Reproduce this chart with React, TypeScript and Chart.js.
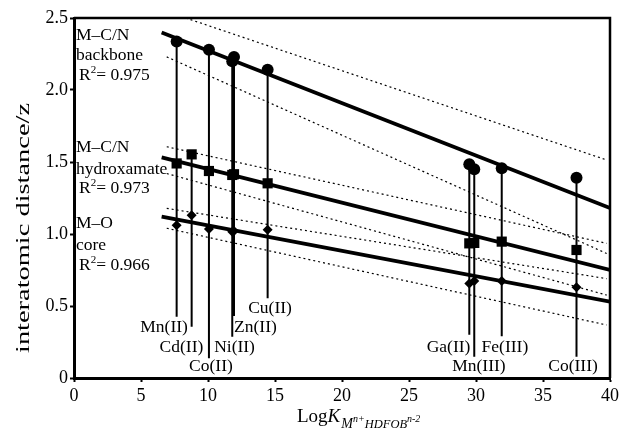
import React, { useEffect, useRef } from 'react';
import { Chart, registerables } from 'chart.js';

Chart.register(...registerables);

const FONT = "'Liberation Serif', 'Times New Roman', serif";

// Metal ions and their log K values
const metals = ['Mn(II)', 'Cd(II)', 'Co(II)', 'Ni(II)', 'Zn(II)', 'Cu(II)', 'Ga(II)', 'Mn(III)', 'Fe(III)', 'Co(III)'];
const logK = [7.66, 8.78, 10.07, 11.81, 11.94, 14.45, 29.5, 29.87, 31.92, 37.5];

// Interatomic distances / z
const backbone = [2.336, null, 2.28, 2.2, 2.23, 2.14, 1.484, 1.449, 1.456, 1.391];
const hydroxamate = [1.49, 1.553, 1.4375, 1.41, 1.415, 1.352, 0.935, 0.938, 0.947, 0.889];
const core = [1.06, 1.13, 1.035, 1.015, 1.02, 1.03, 0.657, 0.674, 0.674, 0.63];

// Bottom end of each drop line (where the label sits)
const stemBottom = [0.426, 0.356, 0.137, 0.287, 0.43, 0.553, 0.3, 0.148, 0.29, 0.148];

// Regression lines
const fitX = [6.54, 40];
const fitBackbone = [2.4, 1.18];
const fitHydroxamate = [1.532, 0.75];
const fitCore = [1.12, 0.53];

// Dotted bands: backbone upper/lower, hydroxamate upper/lower, core upper/lower
const bandStartX = [8.34, 6.92, 6.92, 6.92, 6.92, 6.92];
const bandStartY = [2.5, 2.23, 1.606, 1.42, 1.178, 1.04];
const bandEndX = [39.75, 39.75, 39.75, 39.75, 39.75, 39.75];
const bandEndY = [1.514, 0.865, 0.935, 0.576, 0.69, 0.368];

// Axis ticks
const xTicks = [0, 5, 10, 15, 20, 25, 30, 35, 40];
const yTicks = [0, 0.5, 1.0, 1.5, 2.0, 2.5];

// Group annotation text
const groupNames = [['M–C/N', 'backbone'], ['M–C/N', 'hydroxamate'], ['M–O', 'core']];
const groupR2 = ['0.975', '0.973', '0.966'];

// Label anchor (centre) for each metal label, in data units
const labelAt = {
  x: [6.72, 8.02, 10.22, 11.98, 13.54, 14.63, 27.95, 30.22, 32.16, 37.24],
  y: [0.354, 0.215, 0.083, 0.215, 0.354, 0.486, 0.215, 0.083, 0.215, 0.083],
};
const groupAt = {
  x: 0.15,
  y: [[2.382, 2.243, 2.104], [1.604, 1.448, 1.319], [1.076, 0.924, 0.785]],
};

const pts = (ys: (number | null)[]) =>
  logK.map((x, i) => ({ x, y: ys[i] })).filter((p) => p.y !== null);

const textPlugin = {
  id: 'textPlugin',
  beforeDatasetsDraw(chart: any) {
    const { ctx, chartArea } = chart;
    ctx.save();
    ctx.strokeStyle = '#000';
    ctx.lineWidth = 2.5;
    ctx.beginPath();
    ctx.moveTo(chartArea.left, chartArea.top);
    ctx.lineTo(chartArea.right, chartArea.top);
    ctx.lineTo(chartArea.right, chartArea.bottom);
    ctx.stroke();
    ctx.restore();
  },
  afterDraw(chart: any) {
    const { ctx, chartArea } = chart;
    const xs = chart.scales.x;
    const ys = chart.scales.y;
    ctx.save();
    ctx.fillStyle = '#000';

    // metal labels
    ctx.font = `17.5px ${FONT}`;
    ctx.textAlign = 'center';
    ctx.textBaseline = 'middle';
    metals.forEach((m, i) => {
      ctx.fillText(m, xs.getPixelForValue(labelAt.x[i]), ys.getPixelForValue(labelAt.y[i]));
    });

    // group labels
    ctx.textAlign = 'left';
    groupNames.forEach((lines, g) => {
      const x0 = xs.getPixelForValue(groupAt.x);
      ctx.font = `17.5px ${FONT}`;
      lines.forEach((t, k) => {
        ctx.fillText(t, x0, ys.getPixelForValue(groupAt.y[g][k]));
      });
      const yR = ys.getPixelForValue(groupAt.y[g][2]);
      let cx = x0 + 3;
      ctx.fillText('R', cx, yR);
      cx += ctx.measureText('R').width;
      ctx.font = `11px ${FONT}`;
      ctx.fillText('2', cx, yR - 5);
      cx += ctx.measureText('2').width;
      ctx.font = `17.5px ${FONT}`;
      ctx.fillText('= ' + groupR2[g], cx, yR);
    });

    // y axis title
    ctx.save();
    ctx.font = `19px ${FONT}`;
    const yt = 'interatomic distance/z';
    const w = ctx.measureText(yt).width;
    ctx.translate(chartArea.left - 50, chartArea.top + 210);
    ctx.rotate(-Math.PI / 2);
    ctx.scale(250 / w, 1);
    ctx.textAlign = 'center';
    ctx.textBaseline = 'middle';
    ctx.fillText(yt, 0, 0);
    ctx.restore();

    // x axis title: LogK_{M^{n+}HDFOB^{n-2}}
    ctx.textAlign = 'left';
    ctx.textBaseline = 'alphabetic';
    let px = chartArea.left + 223;
    const base = chartArea.bottom + 44;
    ctx.font = `19px ${FONT}`;
    ctx.fillText('Log', px, base);
    px += ctx.measureText('Log').width;
    ctx.font = `italic 19px ${FONT}`;
    ctx.fillText('K', px, base);
    px += ctx.measureText('K').width + 1;
    const sub = base + 6;
    ctx.font = `italic 14px ${FONT}`;
    ctx.fillText('M', px, sub);
    px += ctx.measureText('M').width;
    ctx.font = `italic 10px ${FONT}`;
    ctx.fillText('n+', px, sub - 6);
    px += ctx.measureText('n+').width;
    ctx.font = `italic 12.5px ${FONT}`;
    ctx.fillText('HDFOB', px, sub);
    px += ctx.measureText('HDFOB').width;
    ctx.font = `italic 10px ${FONT}`;
    ctx.fillText('n-2', px, sub - 6);

    ctx.restore();
  },
};

export default function App() {
  const ref = useRef<HTMLCanvasElement | null>(null);

  useEffect(() => {
    if (!ref.current) return;

    const markerSets = [
      { label: 'backbone', data: pts(backbone), pointStyle: 'circle', pointRadius: 6 },
      { label: 'hydroxamate', data: pts(hydroxamate), pointStyle: 'rect', pointRadius: 7.2 },
      { label: 'core', data: pts(core), pointStyle: 'rectRot', pointRadius: 5 },
    ].map((d) => ({
      ...d,
      type: 'scatter' as const,
      showLine: false,
      backgroundColor: '#000',
      borderColor: '#000',
      borderWidth: 0,
    }));

    const fits = [fitBackbone, fitHydroxamate, fitCore].map((f, i) => ({
      type: 'line' as const,
      label: 'fit' + i,
      data: fitX.map((x, k) => ({ x, y: f[k] })),
      borderColor: '#000',
      borderWidth: 3.8,
      pointRadius: 0,
      fill: false,
    }));

    const bands = bandStartX.map((x0, i) => ({
      type: 'line' as const,
      label: 'band' + i,
      data: [
        { x: x0, y: bandStartY[i] },
        { x: bandEndX[i], y: bandEndY[i] },
      ],
      borderColor: '#000',
      borderWidth: 1.2,
      borderDash: [2, 3],
      pointRadius: 0,
      fill: false,
    }));

    const stems = metals.map((m, i) => {
      const top = Math.max(...([backbone[i], hydroxamate[i], core[i]].filter((v) => v !== null) as number[]));
      return {
        type: 'line' as const,
        label: 'stem ' + m,
        data: [
          { x: logK[i], y: top },
          { x: logK[i], y: stemBottom[i] },
        ],
        borderColor: '#000',
        borderWidth: 2,
        pointRadius: 0,
        fill: false,
      };
    });

    const chart = new Chart(ref.current, {
      type: 'scatter',
      data: { datasets: [...markerSets, ...fits, ...stems, ...bands] as any },
      options: {
        animation: false,
        responsive: true,
        maintainAspectRatio: false,
        layout: { padding: { top: 18, right: 13, bottom: 0, left: 0 } },
        plugins: { legend: { display: false }, tooltip: { enabled: false }, title: { display: false } },
        scales: {
          x: {
            type: 'linear',
            min: 0,
            max: 40,
            afterFit: (s: any) => {
              s.height = 51;
            },
            afterBuildTicks: (s: any) => {
              s.ticks = xTicks.map((v) => ({ value: v }));
            },
            ticks: {
              color: '#000',
              font: { family: FONT, size: 18 },
              padding: 3,
              maxRotation: 0,
              callback: (v: any) => String(v),
            },
            grid: { drawOnChartArea: false, drawTicks: true, tickLength: 4, tickWidth: 2, color: '#000' },
            border: { display: true, width: 3, color: '#000' },
          },
          y: {
            type: 'linear',
            min: 0,
            max: 2.5,
            afterFit: (s: any) => {
              s.width = 74;
            },
            afterBuildTicks: (s: any) => {
              s.ticks = yTicks.map((v) => ({ value: v }));
            },
            ticks: {
              color: '#000',
              font: { family: FONT, size: 18 },
              padding: 2,
              callback: (v: any) => (Number(v) === 0 ? '0' : Number(v).toFixed(1)),
            },
            grid: { drawOnChartArea: false, drawTicks: true, tickLength: 4, tickWidth: 2, color: '#000' },
            border: { display: true, width: 3, color: '#000' },
          },
        },
      },
      plugins: [textPlugin],
    });

    return () => chart.destroy();
  }, []);

  return (
    <div style={{ position: 'fixed', left: 0, top: 0, width: 623, height: 429, background: '#fff' }}>
      <canvas ref={ref} />
    </div>
  );
}
